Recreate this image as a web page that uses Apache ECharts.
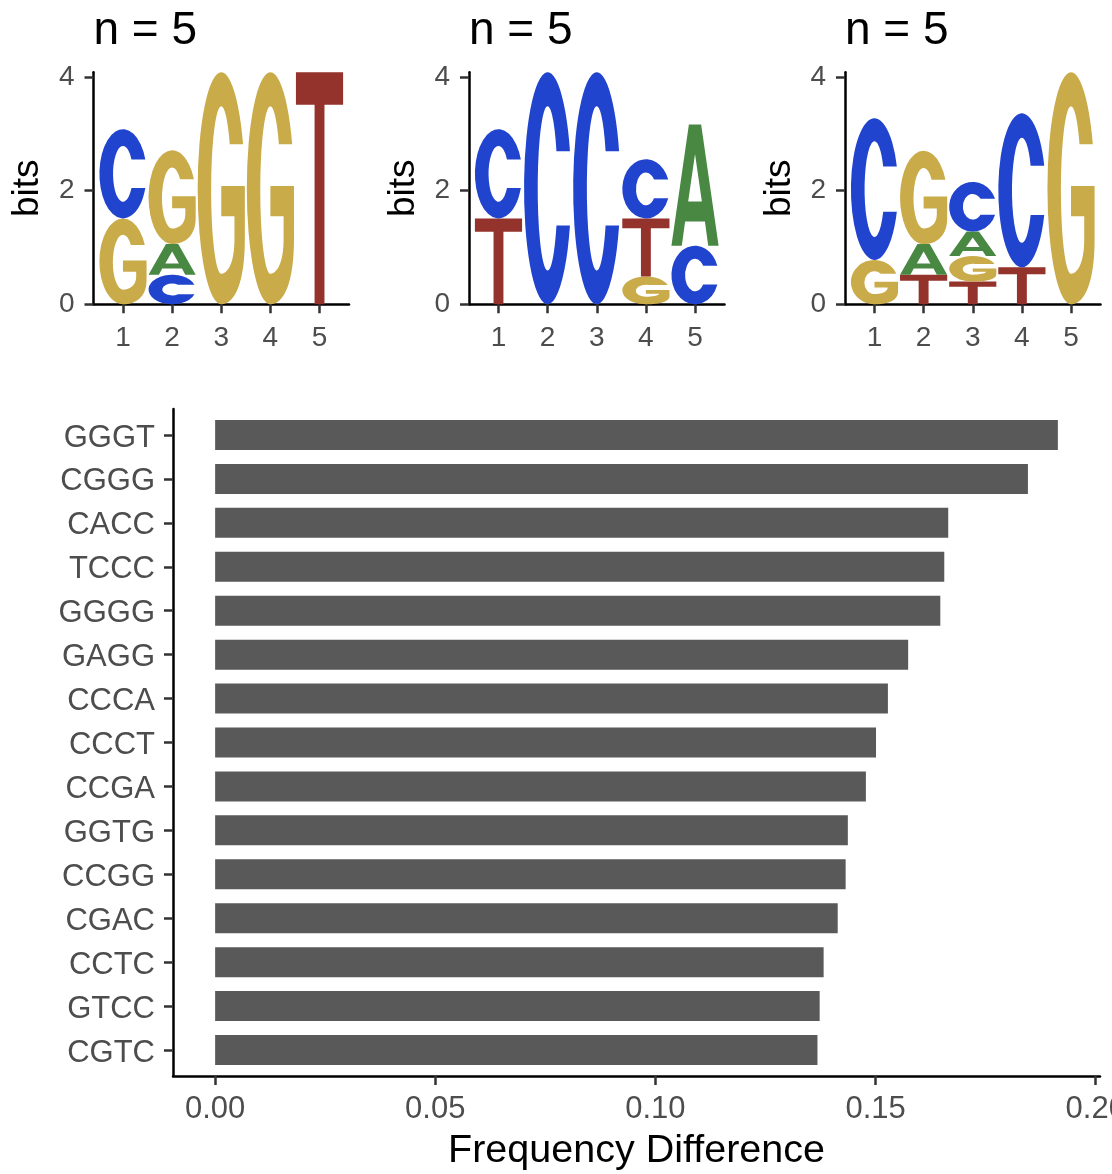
<!DOCTYPE html>
<html><head><meta charset="utf-8">
<script src="https://cdn.jsdelivr.net/npm/echarts@6/dist/echarts.min.js"></script>
<style>html,body{margin:0;padding:0;background:#fff}#c{width:1112px;height:1174px}</style>
</head><body><div id="c"></div>
<script>
// ---------------- data ----------------
const positions = [1, 2, 3, 4, 5];
const logoTitles = ['n = 5', 'n = 5', 'n = 5'];
const bitTicks = [0, 2, 4];
// letter stacks, bottom -> top : [letter, height in bits]
const logo1 = [
  [['G', 1.51], ['C', 1.57]],
  [['C', 0.52], ['A', 0.54], ['G', 1.65]],
  [['G', 4.08]],
  [['G', 4.08]],
  [['T', 4.08]]
];
const logo2 = [
  [['T', 1.51], ['C', 1.57]],
  [['C', 4.08]],
  [['C', 4.08]],
  [['G', 0.49], ['T', 1.02], ['C', 1.04]],
  [['C', 1.03], ['A', 2.13]]
];
const logo3 = [
  [['G', 0.78], ['C', 2.49]],
  [['T', 0.52], ['A', 0.54], ['G', 1.64]],
  [['T', 0.40], ['G', 0.45], ['A', 0.43], ['C', 0.87]],
  [['T', 0.65], ['C', 2.71]],
  [['G', 4.08]]
];
const motifs = ['GGGT','CGGG','CACC','TCCC','GGGG','GAGG','CCCA','CCCT','CCGA','GGTG','CCGG','CGAC','CCTC','GTCC','CGTC'];
const freqDiff = [0.1914,0.1846,0.1665,0.1656,0.1647,0.1574,0.1528,0.1501,0.1478,0.1437,0.1432,0.1414,0.1382,0.1373,0.1368];
const freqTicks = [0, 0.05, 0.10, 0.15, 0.20];

// ---------------- styling ----------------
const FONT = "'Liberation Sans', Arial, Helvetica, sans-serif";
const LETTERS = ['A', 'C', 'G', 'T'];
const LETTER_COLORS = { A: '#488843', C: '#2144CF', G: '#C9AB4A', T: '#94332C' };

// ---------------- glyphs (built in pixel space from axis coords) ----------------
function f(n) { return n.toFixed(2); }
function glyphC(x, y, w, h) {
  const cx = x + w / 2, cy = y + h / 2, rx = w / 2, ry = h / 2;
  const t = Math.min(0.12 * h + 6, 0.3 * h);
  const rxi = 0.21 * w, ryi = ry - t;
  const dy = Math.min(0.16 * h, 0.92 * ryi);
  const xo = cx + rx * Math.sqrt(1 - (dy / ry) ** 2);
  const xi = cx + rxi * Math.sqrt(1 - (dy / ryi) ** 2);
  return `M${f(xo)},${f(cy - dy)} A${f(rx)},${f(ry)} 0 1 0 ${f(xo)},${f(cy + dy)} L${f(xi)},${f(cy + dy)} A${f(rxi)},${f(ryi)} 0 1 1 ${f(xi)},${f(cy - dy)} Z`;
}
function glyphG(x, y, w, h) {
  const cx = x + w / 2, cy = y + h / 2, rx = w / 2, ry = h / 2;
  const t = Math.min(0.12 * h + 6, 0.3 * h);
  const dyu = 0.19 * h;
  const ty = cy - dyu;
  const xo = cx + rx * Math.sqrt(1 - (dyu / ry) ** 2);
  const barTop = y + 0.49 * h, barBot = y + 0.62 * h, barL = x + 0.5 * w, stemIn = x + 0.78 * w;
  const iTop = y + t, iBot = y + h - 0.9 * t;
  const cyi = (iTop + iBot) / 2, ryi = (iBot - iTop) / 2, rxi = 0.215 * w;
  let dd = (ty - cyi) / ryi; dd = Math.max(-0.97, Math.min(0.97, dd));
  const xi = cx + rxi * Math.sqrt(1 - dd * dd);
  const tyi = cyi + dd * ryi;
  const stemLow = Math.max(barBot, iBot - 0.15 * h);
  return `M${f(xo)},${f(ty)} A${f(rx)},${f(ry)} 0 1 0 ${f(cx)},${f(y + h)} ` +
    `C${f(cx + 0.3 * w)},${f(y + h)} ${f(x + w)},${f(y + 0.9 * h)} ${f(x + w)},${f(y + 0.72 * h)} ` +
    `L${f(x + w)},${f(barTop)} L${f(barL)},${f(barTop)} L${f(barL)},${f(barBot)} L${f(stemIn)},${f(barBot)} L${f(stemIn)},${f(stemLow)} ` +
    `C${f(stemIn)},${f(iBot - 0.04 * h)} ${f(cx + 0.12 * w)},${f(iBot)} ${f(cx)},${f(iBot)} ` +
    `A${f(rxi)},${f(ryi)} 0 1 1 ${f(xi)},${f(tyi)} Z`;
}
function glyphA(x, y, w, h) {
  const P = (u, v) => `${f(x + u * w)},${f(y + v * h)}`;
  return `M${P(0, 1)} L${P(0.37, 0)} L${P(0.63, 0)} L${P(1, 1)} L${P(0.78, 1)} L${P(0.71, 0.8)} L${P(0.29, 0.8)} L${P(0.22, 1)} Z ` +
    `M${P(0.355, 0.635)} L${P(0.645, 0.635)} L${P(0.5, 0.243)} Z`;
}
function glyphT(x, y, w, h) {
  const bar = Math.min(0.13 * h + 2.2, 0.35 * h);
  const P = (u, yy) => `${f(x + u * w)},${f(yy)}`;
  return `M${P(0, y)} L${P(1, y)} L${P(1, y + bar)} L${P(0.605, y + bar)} L${P(0.605, y + h)} L${P(0.395, y + h)} L${P(0.395, y + bar)} L${P(0, y + bar)} Z`;
}
function glyph(L, x, y, w, h) {
  if (L === 'C') return glyphC(x, y, w, h);
  if (L === 'G') return glyphG(x, y, w, h);
  if (L === 'A') return glyphA(x, y, w, h);
  return glyphT(x, y, w, h);
}
function renderLetter(params, api) {
  const p = api.value(0), lo = api.value(1), hi = api.value(2), li = api.value(3);
  const a = api.coord([p - 0.48, hi]);
  const b = api.coord([p + 0.48, lo]);
  const x = a[0], y = a[1], w = b[0] - a[0], h = b[1] - a[1];
  const L = LETTERS[li];
  return { type: 'path', shape: { pathData: glyph(L, x, y, w, h) }, style: { fill: LETTER_COLORS[L] } };
}
function stackData(logo) {
  const out = [];
  logo.forEach((stack, i) => {
    let base = 0;
    stack.forEach(([L, hgt]) => {
      out.push([positions[i], base, base + hgt, LETTERS.indexOf(L)]);
      base += hgt;
    });
  });
  return out;
}

// ---------------- layout ----------------
const logoLeft = [93.5, 469, 845];
const logos = [logo1, logo2, logo3];
const grids = [], xAxes = [], yAxes = [], series = [];
const axisLineStyle = { color: '#000', width: 2.5 };
const tickLineStyle = { color: '#333', width: 2.5 };

logos.forEach((logo, i) => {
  grids.push({ left: logoLeft[i], width: 255.5, top: 72.3, height: 232, outerBoundsMode: 'none', containLabel: false });
  xAxes.push({
    gridIndex: i, type: 'value', min: 0.4, max: 5.6,
    axisLine: { show: true, onZero: false, lineStyle: axisLineStyle },
    axisTick: { show: true, customValues: positions, length: 9, lineStyle: tickLineStyle },
    axisLabel: { customValues: positions, margin: 20, fontSize: 28, color: '#4D4D4D', fontFamily: FONT },
    splitLine: { show: false }
  });
  yAxes.push({
    gridIndex: i, type: 'value', min: 0, max: 4.08,
    axisLine: { show: true, onZero: false, lineStyle: axisLineStyle },
    axisTick: { show: true, customValues: bitTicks, length: 9, lineStyle: tickLineStyle },
    axisLabel: { customValues: bitTicks, margin: 19, fontSize: 28, color: '#4D4D4D', fontFamily: FONT },
    splitLine: { show: false },
    name: 'bits', nameLocation: 'middle', nameGap: 47,
    nameTextStyle: { fontSize: 37, color: '#000', fontFamily: FONT }
  });
  series.push({
    type: 'custom', xAxisIndex: i, yAxisIndex: i,
    renderItem: renderLetter, data: stackData(logo),
    encode: { x: 0, y: [1, 2] }, clip: false
  });
});

// bar chart frame (axis lines + x ticks/labels)
const xMin = -0.00957, xMax = 0.20097;
grids.push({ left: 173, right: 12, top: 409, bottom: 98, outerBoundsMode: 'none', containLabel: false });
xAxes.push({
  gridIndex: 3, type: 'value', min: xMin, max: xMax,
  axisLine: { show: true, onZero: false, lineStyle: axisLineStyle },
  axisTick: { show: true, customValues: freqTicks, length: 9, lineStyle: tickLineStyle },
  axisLabel: { customValues: freqTicks, formatter: v => v.toFixed(2), margin: 18, fontSize: 31, color: '#4D4D4D', fontFamily: FONT, hideOverlap: false },
  splitLine: { show: false },
  name: 'Frequency Difference', nameLocation: 'middle', nameGap: 55,
  nameTextStyle: { fontSize: 39.5, color: '#000', fontFamily: FONT }
});
yAxes.push({
  gridIndex: 3, type: 'value', min: 0, max: 1,
  axisLine: { show: true, onZero: false, lineStyle: axisLineStyle },
  axisTick: { show: false }, axisLabel: { show: false }, splitLine: { show: false }
});
// bar chart bars
grids.push({ left: 173, right: 12, top: 413, bottom: 102, outerBoundsMode: 'none', containLabel: false });
xAxes.push({ gridIndex: 4, type: 'value', min: xMin, max: xMax, show: false });
yAxes.push({
  gridIndex: 4, type: 'category', data: motifs, inverse: true,
  axisLine: { show: false, onZero: false },
  axisTick: { show: true, alignWithLabel: true, length: 9, lineStyle: tickLineStyle },
  axisLabel: { margin: 18, fontSize: 31, color: '#4D4D4D', fontFamily: FONT, verticalAlign: 'top', lineHeight: 6 }
});
series.push({
  type: 'bar', xAxisIndex: 4, yAxisIndex: 4, data: freqDiff,
  barWidth: 30, itemStyle: { color: '#595959' }
});

const chart = echarts.init(document.getElementById('c'), null, { renderer: 'canvas' });
chart.setOption({
  backgroundColor: '#fff',
  animation: false,
  title: logoTitles.map((t, i) => ({
    text: t, left: logoLeft[i], top: 8, padding: 0,
    textStyle: { fontSize: 46, fontWeight: 'normal', color: '#000', fontFamily: FONT }
  })),
  grid: grids, xAxis: xAxes, yAxis: yAxes, series: series
});
</script></body></html>
